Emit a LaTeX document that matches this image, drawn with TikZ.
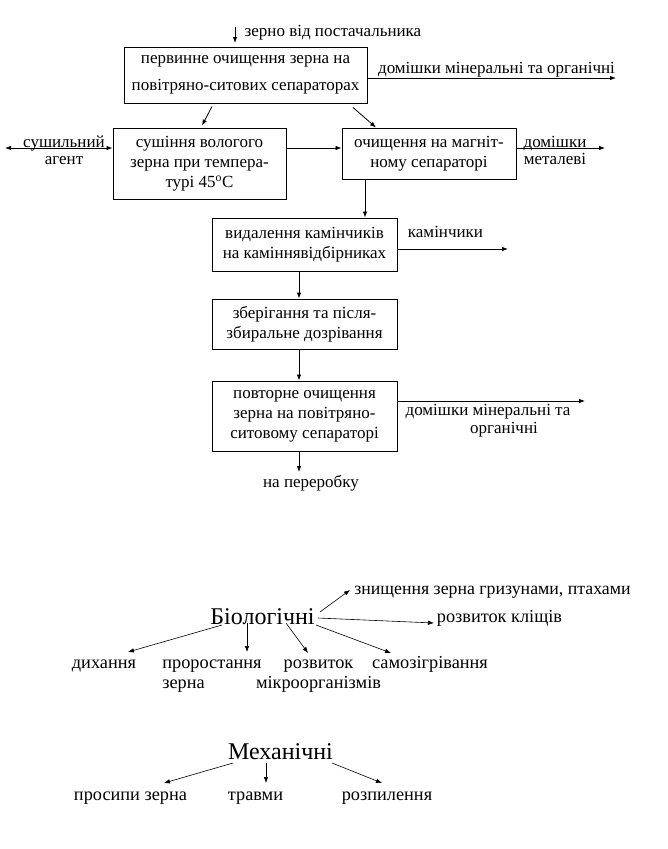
\documentclass[tikz,border=0pt]{standalone}
\usepackage{fontspec}
\setmainfont{Liberation Serif}
\usepackage{tikz}
\usetikzlibrary{arrows.meta}

\newcommand{\flowfont}{\fontsize{17}{20}\selectfont}
\newcommand{\listfont}{\fontsize{18.3}{20}\selectfont}
\newcommand{\headfont}{\fontsize{24}{28}\selectfont}

\tikzset{
	stepbox/.style={draw, line width=0.9pt, inner sep=0pt, align=center, font=\flowfont},
	lbl/.style={inner sep=0pt, align=center, font=\flowfont},
	item/.style={inner sep=0pt, align=center, font=\listfont},
}

\begin{document}
\begin{tikzpicture}[x=1pt,y=-1pt]
		\useasboundingbox[fill=white] (0,0) rectangle (667,849);
		% process boxes
		\node[stepbox,minimum width=243pt,minimum height=56pt] (A) at (245.5,75) {первинне очищення зерна на\\[7pt]повітряно-ситових сепараторах};
		\node[stepbox,minimum width=173pt,minimum height=71pt] (B) at (199.5,163.5) {сушіння вологого\\зерна при темпера-\\турі 45\textsuperscript{o}C};
		\node[stepbox,minimum width=174pt,minimum height=51pt] (C) at (429,153.5) {очищення на магніт-\\ному сепараторі};
		\node[stepbox,minimum width=185pt,minimum height=53pt] (D) at (304.5,244.5) {видалення камінчиків\\на каміннявідбірниках};
		\node[stepbox,minimum width=185pt,minimum height=50pt] (E) at (304.5,324) {зберігання та після-\\збиральне дозрівання};
		\node[stepbox,minimum width=185pt,minimum height=70pt] (F) at (304.5,416) {повторне очищення\\зерна на повітряно-\\ситовому сепараторі};
		%
		\node[lbl] (A') at (333,33) {зерно від постачальника};
		\node[lbl] (A'') at (496.5,70) {домішки мінеральні та органічні};
		\node[lbl] (B') at (64,150.5) {сушильний\\[-3pt]агент};
		\node[lbl] (C') at (555,150.5) {домішки\\[-3pt]металеві};
		\node[lbl] (D') at (445.5,232) {камінчики};
		\node[lbl] (F') at (488,421) {домішки мінеральні та\\[-2pt]\hspace*{32pt}органічні};
		\node[lbl] (F'') at (311,483) {на переробку};
		%
		\coordinate (A1) at (235,27);
		\coordinate (A2) at (235,43);
		\coordinate (A3) at (616,78);
		\coordinate (B1) at (5,148);
		\coordinate (C1) at (605,148);
		\coordinate (C2) at ([xshift=-64pt]C.south);
		\coordinate (D1) at (508,249);
		\coordinate (F1) at (585,401);
		\coordinate (F2) at (299,472);
		%
		\path[->,line width=0.8pt,>={Latex[length=6pt,width=4.5pt]}]
		% inputs and outputs
		(A1) edge (A2)
		([yshift=-3pt]A.east) edge (A3)
		(B1) edge[<->] ([yshift=15.5pt]B.west)
		([yshift=5.5pt]C.east) edge (C1)
		([yshift=-4.5pt]D.east) edge (D1)
		([yshift=15pt]F.east) edge (F1)
		([xshift=-5.5pt]F.south) edge (F2)
		% between boxes
		([xshift=-33.5pt,yshift=-3pt]A.south) edge ([xshift=2.5pt,yshift=2pt]B.north)
		([xshift=107.5pt,yshift=-4pt]A.south) edge ([xshift=-53pt]C.north)
		([yshift=15.5pt]B.east) edge ([yshift=5.5pt]C.west)
		(C2) edge (C2 |- D.north)
		([xshift=-5.5pt]D.south) edge ([xshift=-5.5pt]E.north)
		([xshift=-5.5pt]E.south) edge ([xshift=-5.5pt]F.north);
		%
		% losses
		\node[item,font=\headfont] (Bio) at (262.5,617) {Біологічні};
		\node[item,font=\fontsize{17.8}{20}\selectfont] (k1) at (492.5,592) {знищення зерна гризунами, птахами};
		\node[item] (k2) at (499.5,618) {розвиток кліщів};
		\node[item,anchor=base] (k3) at (104,668) {дихання};
		\node[item,anchor=base,align=left] (k4) at (212,688) {проростання\\зерна};
		\node[item,anchor=base] (k5) at (318.5,688) {розвиток\\мікроорганізмів};
		\node[item,anchor=base] (k6) at (430,668) {самозігрівання};
		\node[item,font=\headfont] (Mech) at (280.5,752) {Механічні};
		\node[item] (m1) at (130.5,798) {просипи зерна};
		\node[item] (m2) at (255.5,798) {травми};
		\node[item] (m3) at (387,798) {розпилення};
		%
		\path[->,line width=0.6pt,>={Latex[length=6pt,width=4.5pt]}]
		([xshift=57.5pt,yshift=5pt]Bio.center) edge ([xshift=-142.5pt,yshift=2pt]k1.center)
		([xshift=55.5pt,yshift=-1pt]Bio.center) edge ([xshift=-65.5pt,yshift=-5pt]k2.center)
		([xshift=-40.5pt,yshift=-8pt]Bio.center) edge ([xshift=24pt,yshift=16pt]k3.base)
		([xshift=-15.5pt,yshift=-6pt]Bio.center) edge ([xshift=35pt,yshift=36pt]k4.base)
		([xshift=23.5pt,yshift=-6pt]Bio.center) edge ([xshift=-10.5pt,yshift=35pt]k5.base)
		([xshift=53.5pt,yshift=-8pt]Bio.center) edge ([xshift=-39pt,yshift=15pt]k6.base)
		([xshift=-47.5pt,yshift=-11pt]Mech.center) edge ([xshift=33.5pt,yshift=15pt]m1.center)
		([xshift=-14.5pt,yshift=-11pt]Mech.center) edge ([xshift=10.5pt,yshift=15pt]m2.center)
		([xshift=51.5pt,yshift=-11pt]Mech.center) edge ([xshift=-5pt,yshift=15pt]m3.center);
\end{tikzpicture}
\end{document}
